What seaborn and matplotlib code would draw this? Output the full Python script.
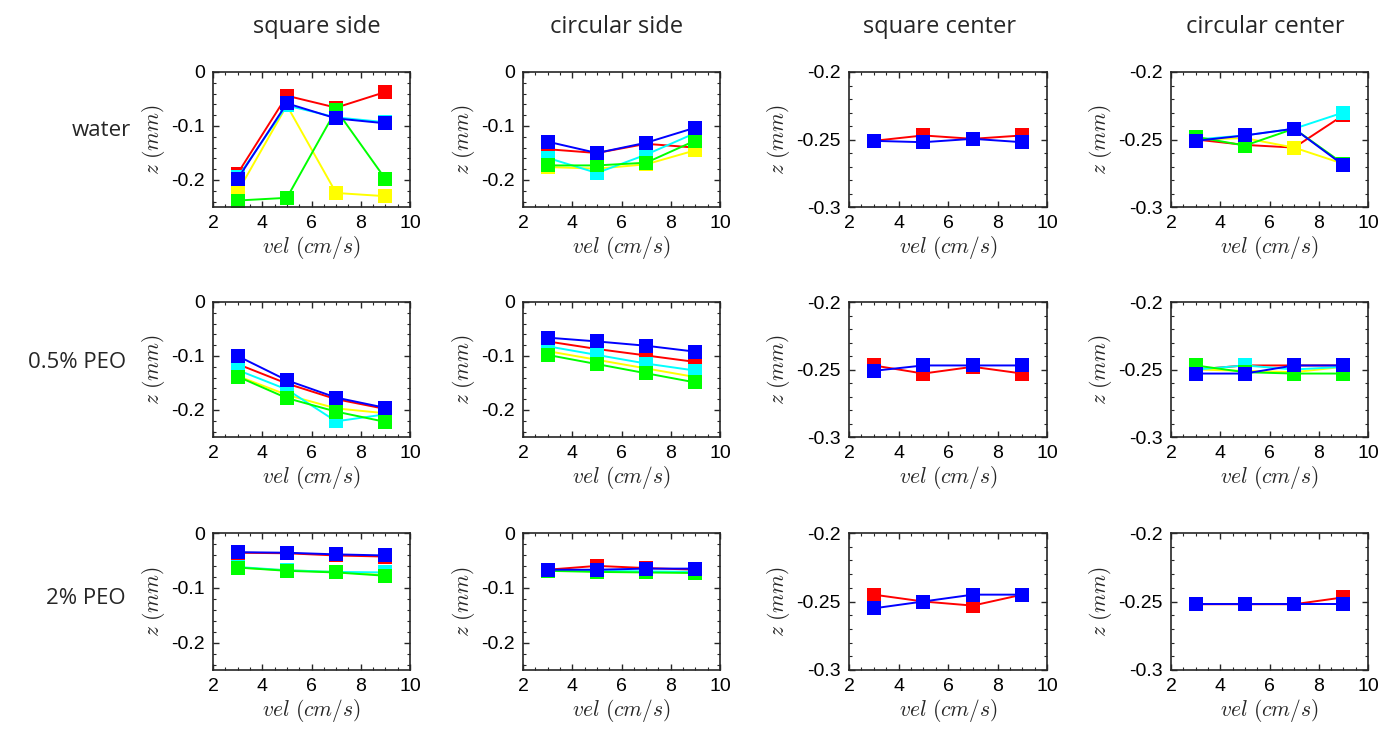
import numpy as np
import pandas as pd
import matplotlib
matplotlib.use("Agg")
import matplotlib.pyplot as plt
import seaborn as sns
from matplotlib.ticker import MultipleLocator, FixedLocator

sns.set_style("ticks")
plt.rcParams['font.family'] = ['Liberation Sans', 'DejaVu Sans']
plt.rcParams['mathtext.fontset'] = 'cm'

vel = [3, 5, 7, 9]
columns = ["square side", "circular side", "square center", "circular center"]
rows = ["water", "0.5% PEO", "2% PEO"]
series_order = ["red", "yellow", "cyan", "green", "blue"]
palette = {"red": "#ff0000", "yellow": "#ffff00", "cyan": "#00ffff",
           "green": "#00ff00", "blue": "#0000ff"}

# ---- water ----
water_square_side = {
    "red":    [-0.188, -0.044, -0.066, -0.037],
    "yellow": [-0.222, -0.062, -0.224, -0.230],
    "cyan":   [-0.195, -0.062, -0.084, -0.093],
    "green":  [-0.238, -0.233, -0.070, -0.198],
    "blue":   [-0.198, -0.058, -0.086, -0.095],
}
water_circular_side = {
    "red":    [-0.143, -0.150, -0.133, -0.140],
    "yellow": [-0.176, -0.179, -0.171, -0.145],
    "cyan":   [-0.159, -0.187, -0.153, -0.113],
    "green":  [-0.173, -0.173, -0.168, -0.127],
    "blue":   [-0.129, -0.150, -0.131, -0.103],
}
water_square_center = {
    "red":    [-0.251, -0.247, -0.2495, -0.247],
    "blue":   [-0.251, -0.252, -0.2495, -0.252],
}
water_circular_center = {
    "red":    [-0.250, -0.254, -0.256, -0.232],
    "yellow": [-0.250, -0.249, -0.256, -0.268],
    "cyan":   [-0.250, -0.247, -0.242, -0.230],
    "green":  [-0.248, -0.2545, -0.242, -0.268],
    "blue":   [-0.251, -0.247, -0.242, -0.269],
}
# ---- 0.5% PEO ----
peo05_square_side = {
    "red":    [-0.115, -0.151, -0.180, -0.198],
    "yellow": [-0.137, -0.172, -0.197, -0.206],
    "cyan":   [-0.126, -0.162, -0.221, -0.208],
    "green":  [-0.138, -0.178, -0.203, -0.222],
    "blue":   [-0.100, -0.145, -0.177, -0.196],
}
peo05_circular_side = {
    "red":    [-0.073, -0.087, -0.099, -0.111],
    "yellow": [-0.091, -0.107, -0.123, -0.139],
    "cyan":   [-0.082, -0.098, -0.114, -0.127],
    "green":  [-0.098, -0.115, -0.132, -0.149],
    "blue":   [-0.066, -0.073, -0.081, -0.092],
}
peo05_square_center = {
    "red":    [-0.247, -0.253, -0.248, -0.253],
    "blue":   [-0.251, -0.247, -0.247, -0.247],
}
peo05_circular_center = {
    "red":    [-0.250, -0.247, -0.247, -0.247],
    "yellow": [-0.250, -0.251, -0.252, -0.248],
    "cyan":   [-0.250, -0.247, -0.250, -0.248],
    "green":  [-0.247, -0.252, -0.253, -0.253],
    "blue":   [-0.253, -0.253, -0.247, -0.247],
}
# ---- 2% PEO ----
peo2_square_side = {
    "red":    [-0.036, -0.037, -0.041, -0.043],
    "yellow": [-0.063, -0.068, -0.071, -0.077],
    "cyan":   [-0.062, -0.068, -0.071, -0.072],
    "green":  [-0.063, -0.069, -0.072, -0.078],
    "blue":   [-0.035, -0.036, -0.039, -0.041],
}
peo2_circular_side = {
    "red":    [-0.067, -0.060, -0.064, -0.067],
    "yellow": [-0.068, -0.070, -0.071, -0.072],
    "cyan":   [-0.068, -0.069, -0.070, -0.071],
    "green":  [-0.069, -0.071, -0.072, -0.073],
    "blue":   [-0.067, -0.067, -0.065, -0.065],
}
peo2_square_center = {
    "red":    [-0.245, -0.250, -0.253, -0.245],
    "blue":   [-0.255, -0.250, -0.245, -0.245],
}
peo2_circular_center = {
    "red":    [-0.252, -0.252, -0.252, -0.247],
    "blue":   [-0.252, -0.252, -0.252, -0.252],
}

panels = [
    [water_square_side, water_circular_side, water_square_center, water_circular_center],
    [peo05_square_side, peo05_circular_side, peo05_square_center, peo05_circular_center],
    [peo2_square_side, peo2_circular_side, peo2_square_center, peo2_circular_center],
]

W, H = 1395, 736
fig = plt.figure(figsize=(W / 100, H / 100), dpi=100)

col_px = [(213, 410), (523, 720), (849, 1047), (1171, 1368)]
row_px = [(72, 207), (302, 437), (533, 670)]

for r, (top, bot) in enumerate(row_px):
    for c, (left, right) in enumerate(col_px):
        ax = fig.add_axes([left / W, 1 - bot / H, (right - left) / W, (bot - top) / H])
        data = panels[r][c]
        recs = []
        for s in series_order:
            if s in data:
                for v, z in zip(vel, data[s]):
                    recs.append({"vel": v, "z": z, "series": s})
        df = pd.DataFrame(recs)
        order = [s for s in series_order if s in data]
        sns.lineplot(data=df, x="vel", y="z", hue="series", hue_order=order,
                     palette=palette, marker="s", markersize=9.5,
                     markeredgewidth=0, linewidth=1.4, legend=False,
                     ax=ax, estimator=None, sort=False)
        ax.set_xlim(2, 10)
        ax.xaxis.set_major_locator(FixedLocator([2, 4, 6, 8, 10]))
        ax.set_xticklabels(["2", "4", "6", "8", "10"])
        ax.xaxis.set_minor_locator(MultipleLocator(0.5))
        if c < 2:
            ax.set_ylim(-0.25, 0)
            ax.yaxis.set_major_locator(FixedLocator([-0.2, -0.1, 0]))
            ax.set_yticklabels(["-0.2", "-0.1", "0"])
            ax.yaxis.set_minor_locator(MultipleLocator(0.02))
        else:
            ax.set_ylim(-0.3, -0.2)
            ax.yaxis.set_major_locator(FixedLocator([-0.3, -0.25, -0.2]))
            ax.set_yticklabels(["-0.3", "-0.25", "-0.2"])
            ax.yaxis.set_minor_locator(MultipleLocator(0.01))
        ax.tick_params(which="both", direction="in", top=True, right=True,
                       colors="#262626", labelcolor="black", labelsize=14)
        ax.tick_params(which="major", length=4, width=1, pad=6)
        ax.tick_params(which="minor", length=2, width=0.8)
        for sp in ax.spines.values():
            sp.set_visible(True)
            sp.set_color("#262626")
            sp.set_linewidth(1.2)
        ax.set_xlabel(r"$vel\ (cm/s)$", fontsize=15.5, labelpad=1)
        ax.set_ylabel(r"$z\ (mm)$", fontsize=15.5, labelpad=3)

title_pos = [(317, 27), (617, 27), (940, 27), (1265, 27)]
for name, (x, y) in zip(columns, title_pos):
    fig.text(x / W, 1 - y / H, name, ha="center", va="center", fontsize=17,
             family=["Open Sans", "DejaVu Sans"])

row_pos = [(101, 131), (77, 362), (86, 598)]
for name, (x, y) in zip(rows, row_pos):
    fig.text(x / W, 1 - y / H, name, ha="center", va="center", fontsize=16,
             family=["Open Sans", "DejaVu Sans"])

fig.savefig("out.png", dpi=100, facecolor="white")
